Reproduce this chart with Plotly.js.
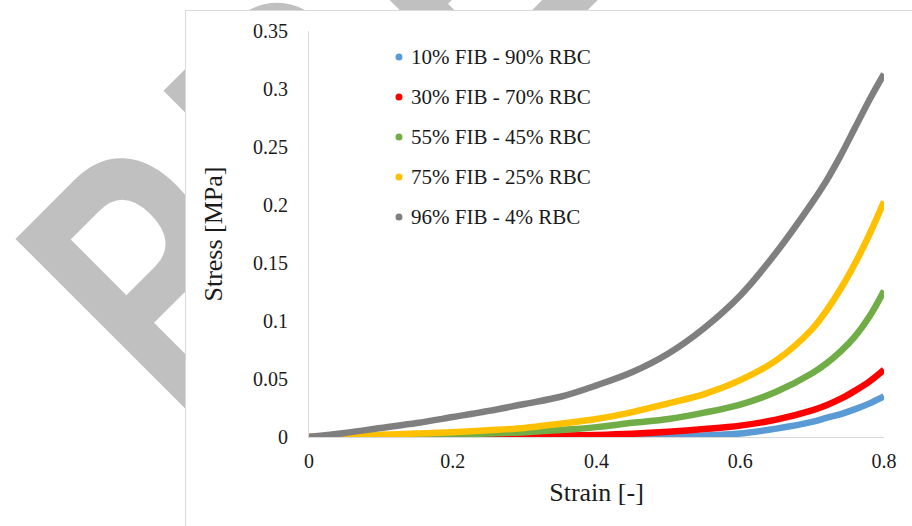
<!DOCTYPE html>
<html>
<head>
<meta charset="utf-8">
<script src="https://cdn.plot.ly/plotly-3.0.1.min.js"></script>
<style>
  html, body { margin: 0; padding: 0; background: #ffffff; }
  #stage { position: relative; width: 912px; height: 526px; overflow: hidden; }
  #mark { position: absolute; left: 0; top: 0; }
  #panel { position: absolute; left: 185px; top: 10px; right: 0; bottom: 0;
           background: #ffffff; border-left: 1px solid #d9d9d9; border-top: 1px solid #d9d9d9; }
  #chart { position: absolute; left: 0; top: 0; width: 912px; height: 526px; }
</style>
</head>
<body>
<div id="stage">
  <svg id="mark" width="912" height="526">
    <g transform="translate(174.5 423.3) rotate(-45) scale(0.76 1)">
      <text x="0" y="0" font-family="Liberation Sans, Arial, sans-serif" font-weight="bold"
            font-size="353" letter-spacing="40" fill="#c0c0c0">PREVIEW</text>
    </g>
  </svg>
  <div id="panel"></div>
  <div id="chart"></div>
</div>
<script>
// Strain values shared by all samples
const strain = [0, 0.05, 0.1, 0.15, 0.2, 0.25, 0.3, 0.35, 0.4, 0.45, 0.5, 0.55,
                0.6, 0.65, 0.7, 0.72, 0.74, 0.76, 0.78, 0.8];

// Stress [MPa] per fibrin / red blood cell composition
const stress10 = [0, 0, 0, 0, 0, 0, 0, 0, 0.0001, 0.0002, 0.0006, 0.0012,
                  0.003, 0.0072, 0.013, 0.0165, 0.0198, 0.024, 0.029, 0.035];
const stress30 = [0, 0, 0.0002, 0.0004, 0.0006, 0.0008, 0.001, 0.0013, 0.0018, 0.0028, 0.0045, 0.0068,
                  0.0098, 0.015, 0.023, 0.0274, 0.033, 0.04, 0.048, 0.058];
const stress55 = [0, 0.0003, 0.0008, 0.0013, 0.002, 0.003, 0.0042, 0.006, 0.0085, 0.0122, 0.0155, 0.021,
                  0.028, 0.039, 0.055, 0.0635, 0.074, 0.087, 0.104, 0.126];
const stress75 = [0, 0.001, 0.002, 0.003, 0.0042, 0.0058, 0.0078, 0.0115, 0.0155, 0.0215, 0.029, 0.037,
                  0.049, 0.066, 0.093, 0.109, 0.128, 0.15, 0.175, 0.203];
const stress96 = [0, 0.0035, 0.0078, 0.012, 0.0172, 0.0225, 0.0285, 0.0347, 0.0445, 0.056, 0.072, 0.094,
                  0.122, 0.159, 0.202, 0.221, 0.243, 0.267, 0.291, 0.313];

const seriesNames = ['10% FIB - 90% RBC', '30% FIB - 70% RBC', '55% FIB - 45% RBC',
                     '75% FIB - 25% RBC', '96% FIB - 4% RBC'];
const seriesColors = ['#5b9bd5', '#ff0000', '#70ad47', '#ffc000', '#7f7f7f'];
const seriesStress = [stress10, stress30, stress55, stress75, stress96];

const xTicks = [0, 0.2, 0.4, 0.6, 0.8];
const yTicks = [0, 0.05, 0.1, 0.15, 0.2, 0.25, 0.3, 0.35];

const serif = 'Liberation Serif';

const traces = seriesStress.map((ys, i) => ({
  x: strain,
  y: ys,
  name: seriesNames[i],
  type: 'scatter',
  mode: 'lines',
  line: { color: seriesColors[i], width: 6.5, shape: 'spline', smoothing: 1 },
  showlegend: false,
  hoverinfo: 'x+y+name'
}));

// Legend rows: dot + label, stacked in the upper-left of the plot area
const legendX = 0.1565, legendTextX = 0.1739, legendTop = 0.936, legendStep = 0.0985;
const shapes = [];
const annotations = [];
seriesNames.forEach((name, i) => {
  const y = legendTop - i * legendStep;
  shapes.push({
    type: 'circle', xref: 'paper', yref: 'paper',
    xsizemode: 'pixel', ysizemode: 'pixel',
    xanchor: legendX, yanchor: y,
    x0: -3.5, x1: 3.5, y0: -3.5, y1: 3.5,
    fillcolor: seriesColors[i], line: { width: 0 }
  });
  annotations.push({
    xref: 'paper', yref: 'paper', x: legendTextX, y: y,
    xanchor: 'left', yanchor: 'middle', showarrow: false,
    text: name, font: { family: serif, size: 21, color: '#1a1a1a' }
  });
});

const layout = {
  width: 912, height: 526,
  margin: { l: 309, r: 28, t: 31, b: 89 },
  paper_bgcolor: 'rgba(0,0,0,0)',
  plot_bgcolor: 'rgba(0,0,0,0)',
  showlegend: false,
  font: { family: serif, color: '#1a1a1a' },
  xaxis: {
    range: [0, 0.8], tickvals: xTicks, ticktext: xTicks.map(String),
    showgrid: false, zeroline: false,
    showline: true, linecolor: '#d9d9d9', linewidth: 1,
    ticks: '', ticklabelstandoff: 6,
    tickfont: { family: serif, size: 20, color: '#1a1a1a' },
    title: { text: 'Strain [-]', font: { family: serif, size: 26, color: '#1a1a1a' }, standoff: 11 }
  },
  yaxis: {
    range: [0, 0.35], tickvals: yTicks, ticktext: yTicks.map(String),
    showgrid: false, zeroline: false,
    showline: true, linecolor: '#d9d9d9', linewidth: 1,
    ticks: '', ticklabelstandoff: 16,
    tickfont: { family: serif, size: 20, color: '#1a1a1a' },
    title: { text: 'Stress [MPa]', font: { family: serif, size: 26, color: '#1a1a1a' }, standoff: 22 }
  },
  shapes: shapes,
  annotations: annotations
};

Plotly.newPlot('chart', traces, layout, { displayModeBar: false, staticPlot: true });
</script>
</body>
</html>
